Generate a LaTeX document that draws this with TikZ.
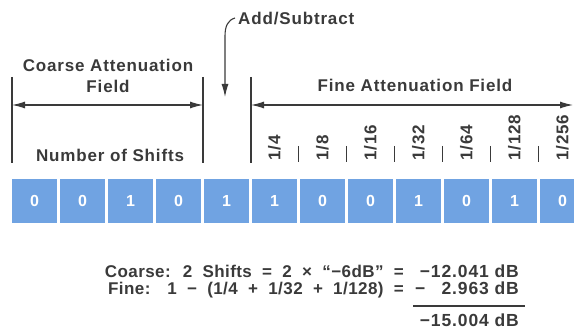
\documentclass[tikz,border=0pt]{standalone}
\usepackage{fontspec}
\setmainfont{Liberation Sans}
\newfontfamily\lbl{Liberation Sans}[LetterSpace=5]
\newfontfamily\eqf{Liberation Sans}[LetterSpace=2.5,WordSpace=2]
\usetikzlibrary{arrows.meta}
\definecolor{ink}{HTML}{3A3A3A}
\definecolor{boxblue}{RGB}{112,163,226}
\tikzset{
  lab/.style={font=\lbl\bfseries\fontsize{17}{20}\selectfont, text=ink, inner sep=0pt},
  eqlab/.style={font=\eqf\bfseries\fontsize{17}{20}\selectfont, text=ink, inner sep=0pt},
  reslab/.style={font=\lbl\bfseries\fontsize{17.5}{20}\selectfont, text=ink, inner sep=0pt},
  fraclab/.style={lab, rotate=90, anchor=west},
  bitbox/.style={fill=boxblue, minimum width=45pt, minimum height=44pt, inner sep=0pt,
    text=white, font=\lbl\bfseries\fontsize{16}{18}\selectfont},
  dimline/.style={draw=ink, line width=1.1pt},
  onearr/.style={-{Latex[length=13pt,width=7pt]}},
  twoarr/.style={{Latex[length=13pt,width=7pt]}-{Latex[length=13pt,width=7pt]}}
}
\begin{document}
\begin{tikzpicture}[x=1pt,y=-1pt]
\useasboundingbox (0,0) rectangle (574,329);
% field boundary lines
\coordinate (cLt) at (12,77);  \coordinate (cLb) at (12,163);
\coordinate (cRt) at (203,77); \coordinate (cRb) at (203,163);
\coordinate (fLt) at (251,77); \coordinate (fLb) at (251,163);
\draw[dimline] (cLt) -- (cLb);
\draw[dimline] (cRt) -- (cRb);
\draw[dimline] (fLt) -- (fLb);
% dimension arrows
\coordinate (cLa) at (12,105);  \coordinate (cRa) at (203,105);
\coordinate (fLa) at (251,105); \coordinate (fRa) at (573,105);
\draw[dimline, twoarr] (cLa) -- (cRa);
\draw[dimline, twoarr] (fLa) -- (fRa);
% labels
\node[lab, anchor=base] (coarse1) at (108,72) {Coarse Attenuation};
\node[lab, anchor=base] (coarse2) at (108,93) {Field};
\node[lab, anchor=base] (shifts) at (110,162) {Number of Shifts};
\node[lab, anchor=base] (finef) at (415,92) {Fine Attenuation Field};
\node[lab, anchor=base west] (addsub) at (238,25) {Add/Subtract};
% add/subtract arrow
\coordinate (asS) at (235,18);
\coordinate (asT) at (225,97);
\draw[dimline, onearr] (asS) .. controls (228,20) and (225,26) .. (225,36) -- (asT);
% fraction labels
\node[fraclab] (f1) at (274.5,161) {1/4};
\node[fraclab] (f2) at (322.5,161) {1/8};
\node[fraclab] (f3) at (370.5,161) {1/16};
\node[fraclab] (f4) at (418.5,161) {1/32};
\node[fraclab] (f5) at (466.5,161) {1/64};
\node[fraclab] (f6) at (514.5,161) {1/128};
\node[fraclab] (f7) at (562.5,161) {1/256};
\foreach \x in {298.5,346.5,394.5,442.5,490.5,538.5}
  \draw[dimline] (\x,146) -- (\x,162);
% bit boxes
\foreach \b [count=\i] in {0,0,1,0,1,1,0,0,1,0,1,0}
  \node[bitbox] (b\i) at ({12+48*(\i-1)+22.5},201) {\b};
% equations
\node[eqlab, anchor=base east] (eq1) at (404,277) {Coarse: 2 Shifts = 2 × “−6dB” =};
\node[reslab, anchor=base east] (r1) at (519,277) {−12.041 dB};
\node[eqlab, anchor=base west] (eq2a) at (108,294) {Fine:};
\node[eqlab, anchor=base east] (eq2b) at (404,294) {1 − (1/4 + 1/32 + 1/128) =};
\node[reslab, anchor=base west] (r2m) at (415,294) {−};
\node[reslab, anchor=base east] (r2) at (519,294) {2.963 dB};
\coordinate (sumL) at (413,306); \coordinate (sumR) at (525,306);
\draw[ink, line width=1.3pt] (sumL) -- (sumR);
\node[reslab, anchor=base east] (r3) at (519,326) {−15.004 dB};
\end{tikzpicture}
\end{document}
